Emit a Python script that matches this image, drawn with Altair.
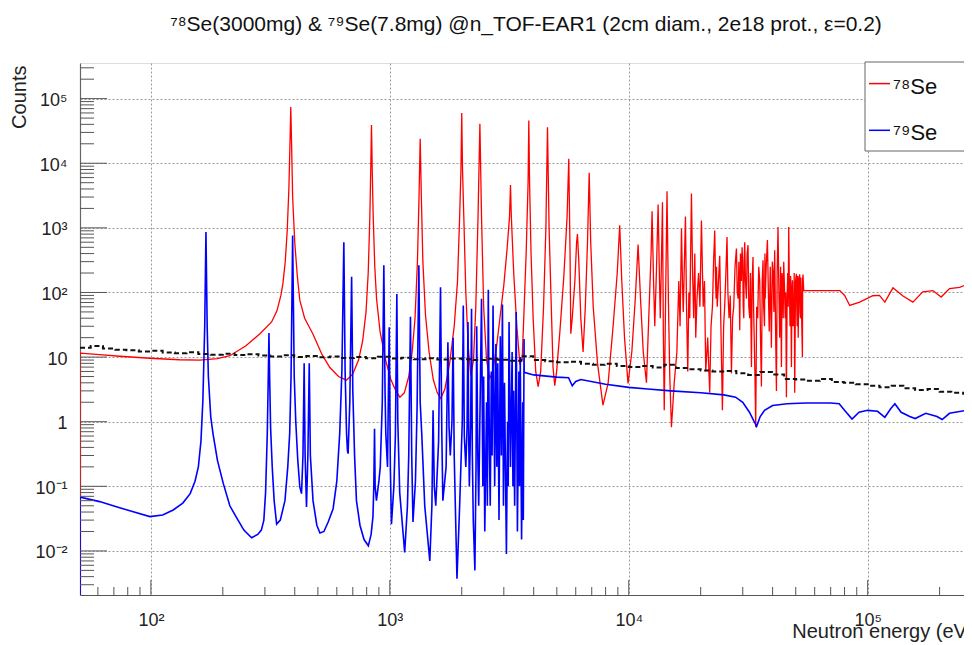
import altair as alt
import pandas as pd

# ---------------- data ----------------
# 78Se counts (energy eV, counts)
se78 = [
    (50.5, 0.00208), (50.5, 11.5), (61, 10.9), (74, 10.3), (99, 9.6), (132, 9.1), (160, 9.0),
    (190, 9.5), (214, 10.5), (250, 15), (286, 23), (320, 35), (337, 52), (350, 90), (357, 138),
    (365, 300), (372, 900), (378, 4000), (382, 20000), (385, 74000), (388, 20000), (392, 3000),
    (400, 600), (410, 180), (420, 76), (440, 40), (476, 23), (520, 11), (561, 6.9), (610, 5.0),
    (659, 4.4), (700, 5.5), (740, 9), (770, 18), (795, 50), (812, 200), (825, 1500),
    (832, 8000), (838, 39000), (844, 8000), (852, 1500), (865, 250), (880, 80), (910, 25),
    (960, 9), (1010, 4.5), (1060, 3), (1102, 2.4), (1150, 2.8), (1200, 5), (1240, 12),
    (1275, 40), (1305, 300), (1325, 3000), (1340, 24000), (1355, 3000), (1375, 300),
    (1410, 45), (1460, 12), (1520, 4.5), (1580, 2.8), (1634, 2.3), (1700, 3.2), (1780, 8),
    (1860, 30), (1920, 150), (1960, 1500), (1985, 8000), (2000, 60000), (2015, 8000),
    (2040, 1500), (2080, 100), (2130, 14), (2183, 5.2), (2240, 9), (2290, 60), (2340, 1500),
    (2382, 41000), (2420, 1500), (2470, 60), (2540, 9), (2620, 4.7), (2700, 6), (2800, 15),
    (2900, 45), (3000, 130), (3100, 500), (3170, 1500), (3199, 4600), (3225, 1500),
    (3300, 200), (3400, 30), (3500, 8), (3580, 9), (3650, 60), (3720, 400), (3790, 5000),
    (3817, 46000), (3845, 5000), (3900, 400), (3980, 40), (4080, 6), (4176, 3.5), (4280, 6),
    (4400, 60), (4500, 1000), (4570, 36000), (4640, 1000), (4740, 60), (4820, 7),
    (4900, 3.6), (4990, 6), (5150, 25), (5350, 180), (5520, 1500), (5610, 11700),
    (5680, 400), (5720, 23), (5800, 40), (5950, 150), (6050, 600), (6100, 800), (6180, 300),
    (6300, 40), (6440, 12), (6580, 60), (6720, 600), (6830, 7100), (6930, 600), (7100, 60),
    (7400, 8), (7800, 1.8), (8200, 4), (8600, 30), (8950, 200), (9165, 1100), (9350, 150),
    (9600, 20), (9930, 3.9), (10300, 12), (10650, 80), (10940, 550), (11200, 80),
    (11500, 12), (11860, 4.0), (12150, 50), (12400, 400), (12520, 1800), (12700, 150),
    (12850, 30), (13050, 200), (13270, 2300), (13450, 150), (13550, 40), (13700, 300),
    (13840, 2500), (13960, 20), (14080, 1.5), (14250, 60), (14460, 3700), (14650, 80),
    (14850, 5), (15090, 0.82), (15500, 4), (15900, 12), (16200, 150), (16400, 30),
    (16620, 980), (16800, 120), (16910, 50), (17100, 300), (17270, 1500), (17450, 60),
    (17660, 6), (17850, 100), (18000, 40), (18300, 3400), (18500, 200), (18700, 40),
    (18900, 400), (19070, 20), (19300, 80), (19600, 200), (19850, 60), (20150, 1300),
    (20350, 200), (20500, 60), (20750, 150), (21000, 6), (21400, 20), (21820, 2.8),
    (22100, 30), (22400, 60), (22650, 300), (22900, 910), (23050, 200), (23200, 80),
    (23300, 250), (23460, 60), (23750, 150), (24030, 370), (24300, 30), (24660, 1.5),
    (24950, 30), (25200, 60), (25500, 200), (25780, 720), (26000, 100), (26300, 40),
    (26600, 90), (26900, 5.6), (27200, 40), (27500, 60), (27850, 250), (28230, 480),
    (28450, 100), (28700, 80), (28900, 300), (29140, 26), (29350, 400), (29600, 150),
    (29800, 500), (29990, 300), (30150, 60), (30300, 40), (30450, 350), (30570, 600),
    (30800, 150), (31080, 80), (31300, 400), (31570, 540), (31800, 60), (32090, 40),
    (32300, 200), (32620, 7), (32850, 150), (33120, 355), (33300, 60), (33500, 20),
    (33750, 5), (33990, 0.82), (34300, 60), (34650, 40), (35000, 250), (35330, 150),
    (35600, 20), (35910, 3.5), (36200, 150), (36470, 315), (36700, 60), (37000, 30),
    (37150, 400), (37250, 80), (37600, 250), (38050, 650), (38400, 100), (38720, 25),
    (39100, 250), (39540, 14), (39900, 300), (40240, 200), (40500, 50), (40810, 450),
    (41150, 30), (41500, 3), (41800, 200), (42140, 1030), (42500, 100), (42840, 20),
    (43200, 250), (43550, 7), (43800, 200), (44100, 150), (44300, 40), (44520, 300),
    (44850, 120), (45170, 40), (45400, 100), (45690, 2.4), (46000, 80), (46270, 200),
    (46500, 60), (46720, 1030), (47000, 150), (47310, 30), (47600, 180), (47960, 7),
    (48200, 120), (48420, 155), (48700, 30), (49030, 40), (49250, 200), (49500, 2.8),
    (49900, 150), (50310, 195), (50500, 60), (50700, 30), (50950, 180), (51190, 20),
    (51550, 160), (51940, 190), (52100, 50), (52300, 40), (52500, 170), (52700, 120),
    (53000, 30), (53310, 10), (53450, 160), (53620, 190),
    (53980, 107), (76400, 107), (80100, 90), (84100, 63), (92600, 71), (105000, 89),
    (112000, 90), (118000, 71), (127600, 118), (140000, 89), (154600, 71), (170000, 102),
    (187500, 107), (203000, 85), (220000, 115), (242500, 120), (263000, 135), (272000, 115),
]

# 79Se counts (energy eV, counts)
se79 = [
    (50.5, 0.00208), (50.5, 0.068), (61, 0.058), (69.5, 0.050), (83, 0.041), (99, 0.034),
    (112, 0.036), (124, 0.043), (136, 0.055), (146, 0.077), (153, 0.12), (158, 0.20),
    (162, 0.5), (165, 2.1), (168, 30), (170, 860), (172, 30), (174, 5), (178, 1.2),
    (182, 0.65), (190, 0.25), (201, 0.11), (214, 0.05), (228, 0.033), (245, 0.021),
    (264, 0.016), (280, 0.018), (290, 0.021), (297, 0.03), (302, 0.08), (307, 0.66),
    (310, 5), (312, 23.5), (314, 5), (317, 0.8), (322, 0.2), (328, 0.06), (336, 0.026),
    (348, 0.03), (364, 0.06), (374, 0.2), (381, 0.66), (386, 5), (389, 60), (392, 760),
    (395, 60), (398, 5), (404, 1.0), (412, 0.25), (420, 0.098), (427, 0.077), (433, 0.3),
    (438, 8.0), (442, 0.3), (448, 0.048), (454, 0.3), (460, 8.0), (465, 0.3), (477, 0.06),
    (495, 0.025), (510, 0.019), (530, 0.02), (552, 0.028), (579, 0.045), (600, 0.12),
    (617, 0.66), (630, 6), (642, 600), (650, 6), (659, 0.66), (665, 0.35), (669, 0.32),
    (680, 2), (692, 175), (700, 3), (712, 0.3), (725, 0.06), (750, 0.025), (780, 0.015),
    (813, 0.012), (835, 0.018), (850, 0.034), (857, 0.1), (863, 0.78), (868, 0.1),
    (879, 0.06), (900, 0.12), (912, 0.20), (930, 2), (944, 263), (955, 3), (962, 0.66),
    (978, 0.2), (994, 29), (1005, 0.2), (1016, 0.026), (1040, 0.1), (1055, 0.6), (1070, 95),
    (1080, 1), (1100, 0.08), (1154, 0.0095), (1185, 0.05), (1200, 0.3), (1220, 42),
    (1235, 0.3), (1250, 0.028), (1280, 0.12), (1300, 1.5), (1323, 263), (1340, 2),
    (1360, 0.66), (1400, 0.05), (1470, 0.007), (1500, 0.05), (1517, 1.5), (1535, 0.1),
    (1557, 0.05), (1600, 0.5), (1630, 120), (1650, 0.7), (1667, 0.06), (1720, 0.2),
    (1750, 17), (1770, 0.8), (1791, 0.3), (1820, 1), (1840, 20), (1860, 0.3),
    (1910, 0.0037), (1960, 0.05), (2010, 1), (2030, 63), (2050, 0.6), (2080, 0.2),
    (2105, 0.8), (2124, 35), (2140, 0.5), (2152, 0.1), (2180, 1), (2198, 56), (2215, 0.3),
    (2235, 0.03), (2270, 0.005), (2295, 0.2), (2310, 30), (2335, 0.3), (2355, 0.05),
    (2420, 80), (2450, 0.1), (2470, 5), (2497, 0.02), (2540, 2), (2560, 0.05),
    (2583, 110), (2610, 0.4), (2632, 0.05), (2660, 6), (2680, 0.3), (2704, 63),
    (2747, 0.1), (2780, 16), (2805, 0.2), (2830, 8), (2864, 0.03), (2900, 21),
    (2930, 0.3), (2960, 65), (2990, 0.05), (3020, 4), (3076, 0.009), (3110, 1),
    (3130, 0.1), (3155, 35), (3200, 0.2), (3250, 12), (3275, 0.1), (3297, 3),
    (3330, 0.05), (3380, 50), (3420, 0.02), (3470, 6), (3490, 0.1), (3515, 10),
    (3560, 0.015), (3600, 2), (3620, 0.03), (3646, 19), (3650, 5.8), (4000, 5.3),
    (5000, 4.9), (5600, 4.8), (5800, 3.6), (6000, 4.2), (6300, 4.5), (8000, 3.8),
    (10000, 3.4), (12000, 3.2), (15000, 3.0), (20000, 2.8), (25000, 2.6), (28000, 2.4),
    (30000, 2.0), (32000, 1.4), (33500, 1.0), (34300, 0.85), (35500, 1.2), (37000, 1.5),
    (40000, 1.78), (46000, 1.9), (55000, 1.95), (70000, 1.95), (76000, 1.9), (80000, 1.5),
    (86000, 1.1), (92000, 1.4), (100000, 1.5), (110000, 1.45), (118000, 1.17),
    (125000, 1.6), (130000, 1.9), (138000, 1.4), (150000, 1.2), (158000, 1.12),
    (175000, 1.35), (195000, 1.2), (205000, 1.08), (220000, 1.35), (260000, 1.5),
    (272000, 1.35),
]

# background histogram (bin lower edge eV, counts)
background = [
    (50.5, 14.0), (56, 14.8), (63, 13.6), (71, 13.0), (79, 12.8), (89, 12.2), (100, 12.5),
    (112, 11.8), (126, 11.5), (141, 11.9), (158, 11.2), (178, 10.9), (200, 11.3),
    (224, 10.8), (251, 11.1), (282, 10.6), (316, 10.2), (355, 10.7), (398, 10.0),
    (447, 10.4), (501, 9.9), (562, 10.2), (631, 9.7), (708, 10.0), (794, 9.6), (891, 10.1),
    (1000, 9.5), (1120, 9.8), (1260, 9.3), (1410, 9.6), (1580, 9.2), (1780, 9.5),
    (2000, 9.3), (2240, 9.0), (2510, 9.4), (2820, 9.1), (3160, 8.8), (3550, 10.3),
    (3980, 9.0), (4470, 8.6), (5010, 8.3), (5620, 8.5), (6310, 7.9), (7080, 7.6),
    (7940, 7.9), (8910, 7.3), (10000, 7.0), (11200, 7.3), (12600, 6.9), (14100, 7.6),
    (15800, 6.8), (17800, 6.5), (20000, 6.2), (22400, 6.0), (25100, 6.1), (28200, 5.6),
    (31600, 5.3), (35500, 5.9), (39800, 5.4), (44700, 4.6), (50100, 4.5), (56200, 4.3),
    (63100, 4.6), (70800, 4.1), (79400, 4.0), (89100, 3.8), (100000, 3.6), (112000, 3.4),
    (126000, 3.6), (141000, 3.3), (158000, 3.1), (178000, 3.2), (200000, 2.9),
    (224000, 2.8), (251000, 2.7), (272000, 2.6),
]

x_ticks = [100, 1000, 10000, 100000]
x_tick_labels = ["10²", "10³", "10⁴", "10⁵"]
y_ticks = [0.01, 0.1, 1, 10, 100, 1000, 10000, 100000]
y_tick_labels = ["10⁻²", "10⁻¹", "1", "10", "10²", "10³", "10⁴", "10⁵"]
legend_labels = ["⁷⁸Se", "⁷⁹Se"]
legend_colors = ["#ff0000", "#0000ff"]
title_text = "⁷⁸Se(3000mg) & ⁷⁹Se(7.8mg) @n_TOF-EAR1 (2cm diam., 2e18 prot.,   ε=0.2)"
x_title = "Neutron energy (eV)"
y_title = "Counts"

X_DOMAIN = [50.5, 253000]
Y_DOMAIN = [0.00208, 356000]
W, H = 884, 532
FONT = "Liberation Sans"


def to_df(pairs):
    return pd.DataFrame({"E": [p[0] for p in pairs], "C": [p[1] for p in pairs],
                         "i": list(range(len(pairs)))})


def lab_expr(vals, labs):
    s = ""
    for v, l in zip(vals, labs):
        s += f"datum.value < {v * 1.5} ? '{l}' : "
    return s + "''"


xscale = alt.Scale(type="log", domain=X_DOMAIN, nice=False)
yscale = alt.Scale(type="log", domain=Y_DOMAIN, nice=False)

x_axis = alt.Axis(values=x_ticks, labelExpr=lab_expr(x_ticks, x_tick_labels), grid=True,
                  gridDash=[2, 2], gridColor="#9a9a9a", gridWidth=1, ticks=False, tickSize=0,
                  domainColor="#555", domainWidth=1.2, labelFont=FONT, labelFontSize=18,
                  labelColor="#222", labelPadding=30, labelBaseline="alphabetic",
                  labelFlush=False, labelOverlap=False, labelBound=False,
                  title=x_title, titleFont=FONT, titleFontSize=20, titleFontWeight="normal",
                  titleColor="#222", titleAlign="right", titleAnchor="end",
                  titleBaseline="alphabetic", titleX=W + 9, titleY=42)
y_axis = alt.Axis(values=y_ticks, labelExpr=lab_expr(y_ticks, y_tick_labels), grid=True,
                  gridDash=[2, 2], gridColor="#9a9a9a", gridWidth=1, ticks=False, tickSize=0,
                  domainColor="#666", domainWidth=1.2, labelFont=FONT, labelFontSize=18,
                  labelColor="#222", labelPadding=13, labelAlign="right",
                  labelBaseline="middle", labelOffset=2, labelFlush=False,
                  labelOverlap=False, labelBound=False,
                  title=y_title, titleFont=FONT, titleFontSize=20, titleFontWeight="normal",
                  titleColor="#222", titleAngle=270, titleAlign="right",
                  titleBaseline="alphabetic", titleX=-55, titleY=2)

red = alt.Chart(to_df(se78)).mark_line(color="#ff0000", strokeWidth=1.3, clip=True).encode(
    x=alt.X("E:Q", scale=xscale, axis=x_axis),
    y=alt.Y("C:Q", scale=yscale, axis=y_axis),
    order="i:Q")
blue = alt.Chart(to_df(se79)).mark_line(color="#0000ff", strokeWidth=1.6, clip=True).encode(
    x=alt.X("E:Q", scale=xscale), y=alt.Y("C:Q", scale=yscale), order="i:Q")
black = alt.Chart(to_df(background)).mark_line(
    color="#111", strokeWidth=2, strokeDash=[5, 3], interpolate="step-after", clip=True
).encode(x=alt.X("E:Q", scale=xscale), y=alt.Y("C:Q", scale=yscale), order="i:Q")

# inward ROOT-style ticks
y_minor = [m * d for d in [0.001] + y_ticks for m in range(2, 10)
           if Y_DOMAIN[0] <= m * d <= Y_DOMAIN[1]]
x_minor = [m * d for d in [10] + x_ticks for m in range(2, 10)
           if X_DOMAIN[0] <= m * d <= X_DOMAIN[1]]
tick_col = "#555"
ymaj = alt.Chart(pd.DataFrame({"C": y_ticks})).mark_rule(color=tick_col, strokeWidth=1).encode(
    y=alt.Y("C:Q", scale=yscale), x=alt.value(0), x2=alt.value(27))
ymin = alt.Chart(pd.DataFrame({"C": y_minor})).mark_rule(color=tick_col, strokeWidth=1).encode(
    y=alt.Y("C:Q", scale=yscale), x=alt.value(0), x2=alt.value(14))
xmaj = alt.Chart(pd.DataFrame({"E": x_ticks})).mark_rule(color=tick_col, strokeWidth=1).encode(
    x=alt.X("E:Q", scale=xscale), y=alt.value(H), y2=alt.value(H - 15))
xmin = alt.Chart(pd.DataFrame({"E": x_minor})).mark_rule(color=tick_col, strokeWidth=1).encode(
    x=alt.X("E:Q", scale=xscale), y=alt.value(H), y2=alt.value(H - 8))

# legend box
one = pd.DataFrame({"a": [0]})
leg_box = alt.Chart(one).mark_rect(fill="white", stroke="#666", strokeWidth=1).encode(
    x=alt.value(785), x2=alt.value(910), y=alt.value(-1), y2=alt.value(88))
leg_layers = [leg_box]
for k, (lab, col) in enumerate(zip(legend_labels, legend_colors)):
    yy = 20.6 + 46.7 * k
    leg_layers.append(alt.Chart(one).mark_rule(color=col, strokeWidth=1.5).encode(
        x=alt.value(789), x2=alt.value(810), y=alt.value(yy)))
    leg_layers.append(alt.Chart(pd.DataFrame({"t": [lab]})).mark_text(
        font=FONT, fontSize=22, color="#111", align="left", baseline="alphabetic").encode(
        text="t:N", x=alt.value(813), y=alt.value(yy + 10)))

chart = alt.layer(red, blue, black, ymaj, ymin, xmaj, xmin, *leg_layers).properties(
    width=W, height=H,
    title=alt.TitleParams(text=title_text, font=FONT, fontSize=21, fontWeight="normal",
                          color="#111", anchor="middle", frame="group", offset=10,
                          baseline="alphabetic", dx=4),
    autosize=alt.AutoSizeParams(type="none"),
    padding={"left": 72, "top": 55, "right": 0, "bottom": 50},
).configure_view(stroke="#888", strokeWidth=1).configure(background="white")

chart.save("out.html", embed_options={"renderer": "svg", "actions": False})
